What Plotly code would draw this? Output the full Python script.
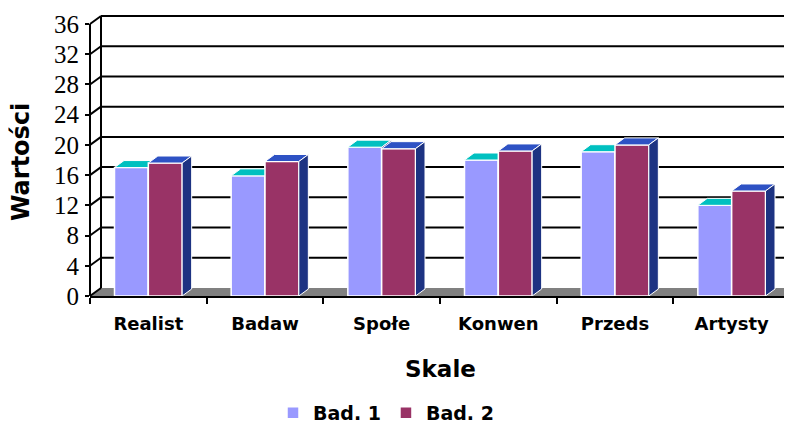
import plotly.graph_objects as go

# ---- data ----
categories = ["Realist", "Badaw", "Społe", "Konwen", "Przeds", "Artysty"]
bad1 = [17.0, 15.9, 19.7, 18.0, 19.1, 12.0]
bad2 = [17.6, 17.8, 19.5, 19.2, 20.0, 13.9]
series_names = ["Bad. 1", "Bad. 2"]
y_ticks = [0, 4, 8, 12, 16, 20, 24, 28, 32, 36]

# ---- styling ----
C1_FRONT, C1_TOP, C1_SIDE = "#9999FF", "#00C0C0", "#33339A"
C2_FRONT, C2_TOP, C2_SIDE = "#993366", "#2E52C4", "#1D3382"
FLOOR = "#808080"

# the page body has an 8px margin, so the figure is 784x416 inside a 792x424 window
OFF = 8
W, H = 792 - OFF, 424 - OFF
ML, MT = 90 - OFF, 24 - OFF
MR = W - (790 - OFF)
MB = H - (296 - OFF)
YMAX = 36
XMIN, XMAX = -0.5, len(categories) - 0.5
plot_w = W - ML - MR
plot_h = H - MT - MB
ux = plot_w / (XMAX - XMIN)      # px per category unit
uy = plot_h / YMAX               # px per value unit

# depth offsets (wall and bars) in data units
WDX, WDY = 11 / ux, 8 / uy
BDX, BDY = 9.5 / ux, 7 / uy

BARGAP = 0.42
bw = (1 - BARGAP) / 2

def px(x):
    return (x - XMIN) / (XMAX - XMIN)

def py(v):
    return v / YMAX

def win_to_paper_x(xw):
    return (xw - OFF - ML) / plot_w

def win_to_paper_y(yw):
    return (MT + plot_h - (yw - OFF)) / plot_h

shapes = []
# floor
shapes.append(dict(type="path", xref="paper", yref="paper", layer="below",
                   path=f"M{px(XMIN)},{py(0)} L{px(XMAX)},{py(0)} L{px(XMAX+WDX)},{py(WDY)} L{px(XMIN+WDX)},{py(WDY)} Z",
                   fillcolor=FLOOR, line=dict(width=0)))
# back wall gridlines
for v in y_ticks:
    if v > 0:
        shapes.append(dict(type="line", xref="paper", yref="paper", layer="below",
                           x0=px(XMIN + WDX), x1=px(XMAX + WDX), y0=py(v + WDY), y1=py(v + WDY),
                           line=dict(color="black", width=2)))
# left wall vertical edge
shapes.append(dict(type="line", xref="paper", yref="paper", layer="below",
                   x0=px(XMIN + WDX), x1=px(XMIN + WDX), y0=py(WDY), y1=py(YMAX + WDY),
                   line=dict(color="black", width=2)))
# left wall diagonals
for v in y_ticks:
    shapes.append(dict(type="line", xref="paper", yref="paper", layer="below",
                       x0=px(XMIN), x1=px(XMIN + WDX), y0=py(v), y1=py(v + WDY),
                       line=dict(color="black", width=2)))
# front value axis line
shapes.append(dict(type="line", xref="paper", yref="paper", layer="below",
                   x0=px(XMIN), x1=px(XMIN), y0=py(0), y1=py(YMAX),
                   line=dict(color="black", width=2)))

def face(path, color, w=1):
    return dict(type="path", xref="x", yref="y", layer="above", path=path,
                fillcolor=color, line=dict(color="white", width=w))

for i, (v1, v2) in enumerate(zip(bad1, bad2)):
    l1, r1 = i - bw, i
    l2, r2 = i, i + bw
    # series 1 top + side
    shapes.append(face(f"M{l1},{v1} L{r1},{v1} L{r1+BDX},{v1+BDY} L{l1+BDX},{v1+BDY} Z", C1_TOP))
    shapes.append(face(f"M{r1},0 L{r1+BDX},{BDY} L{r1+BDX},{v1+BDY} L{r1},{v1} Z", C1_SIDE))
    # series 2 front (over series 1 side), top, side
    shapes.append(face(f"M{l2},0 L{r2},0 L{r2},{v2} L{l2},{v2} Z", C2_FRONT, 1.5))
    shapes.append(face(f"M{l2},{v2} L{r2},{v2} L{r2+BDX},{v2+BDY} L{l2+BDX},{v2+BDY} Z", C2_TOP))
    shapes.append(face(f"M{r2},0 L{r2+BDX},{BDY} L{r2+BDX},{v2+BDY} L{r2},{v2} Z", C2_SIDE))

fig = go.Figure()
fig.add_trace(go.Bar(name=series_names[0], x=categories, y=bad1,
                     marker=dict(color=C1_FRONT, line=dict(color="white", width=1.5))))
fig.add_trace(go.Bar(name=series_names[1], x=categories, y=bad2,
                     marker=dict(color=C2_FRONT, line=dict(color="white", width=1.5))))

bold = dict(family="DejaVu Sans", color="black", weight="bold")

fig.update_layout(
    width=W, height=H,
    margin=dict(l=ML, r=MR, t=MT, b=MB, autoexpand=False),
    paper_bgcolor="white", plot_bgcolor="rgba(0,0,0,0)",
    barmode="group", bargap=BARGAP, bargroupgap=0,
    showlegend=True,
    legend=dict(orientation="h", x=win_to_paper_x(386), xanchor="center",
                y=win_to_paper_y(413), yanchor="middle",
                font=dict(size=19, **bold), bgcolor="rgba(0,0,0,0)"),
    xaxis=dict(type="category", range=[XMIN, XMAX], tickson="boundaries",
               ticks="outside", ticklen=6, tickwidth=2, tickcolor="black",
               showline=True, linewidth=2, linecolor="black", showgrid=False,
               ticklabelstandoff=10, tickfont=dict(size=18, **bold)),
    yaxis=dict(range=[0, YMAX], tickvals=y_ticks, ticks="outside", ticklen=4,
               tickwidth=2, tickcolor="black", showline=False, showgrid=False,
               zeroline=False, ticklabelstandoff=1,
               tickfont=dict(family="Liberation Serif", size=25, color="black")),
    shapes=shapes,
    annotations=[
        dict(text="Wartości", xref="paper", yref="paper", x=win_to_paper_x(21),
             y=win_to_paper_y(162), xanchor="center", yanchor="middle",
             textangle=-90, showarrow=False, font=dict(size=24, **bold)),
        dict(text="Skale", xref="paper", yref="paper", x=0.5,
             y=win_to_paper_y(369), xanchor="center", yanchor="middle",
             showarrow=False, font=dict(size=23, **bold)),
    ],
)

fig.write_html("out.html")
